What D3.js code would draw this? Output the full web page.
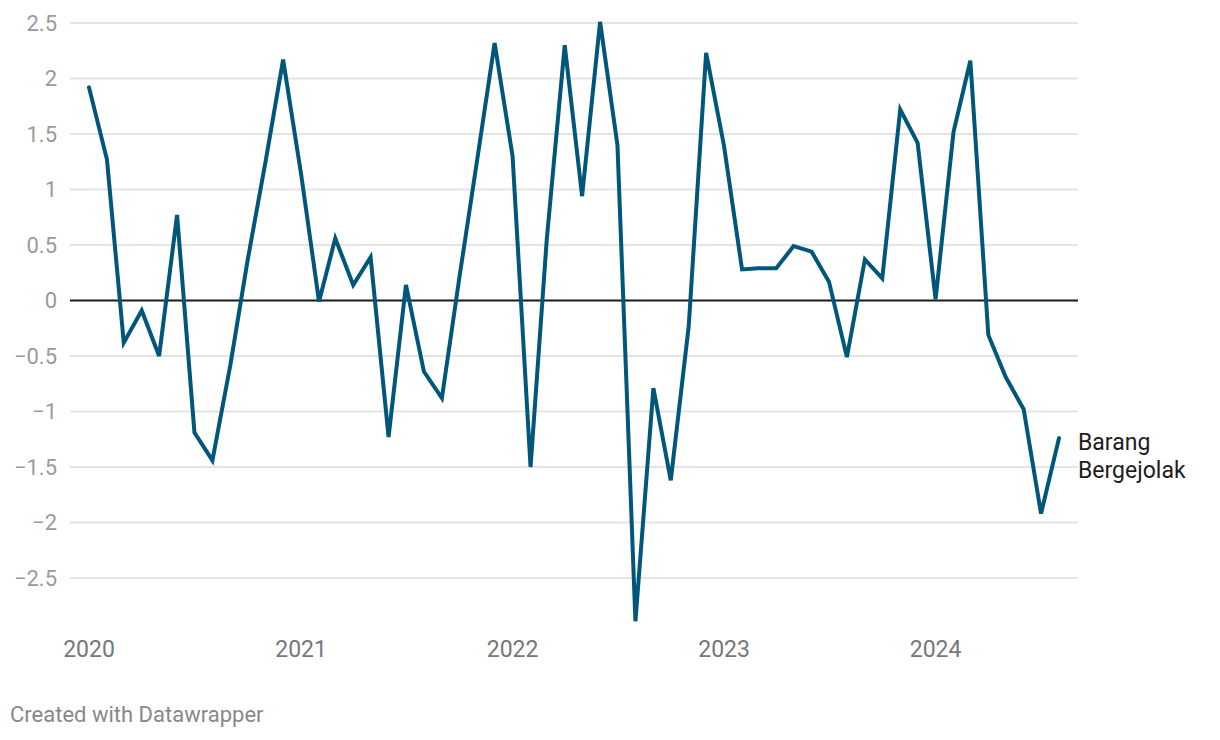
<!DOCTYPE html>
<html>
<head>
<meta charset="utf-8">
<script src="https://cdn.jsdelivr.net/npm/d3@7"></script>
<style>
  html, body { margin: 0; padding: 0; background: #fff; }
  svg { display: block; font-family: Roboto, "Noto Sans", sans-serif; }
</style>
</head>
<body>
<svg id="chart" width="1220" height="740"></svg>
<script>
// ---- data ----
const startMonth = "2020-01";
const seriesName = ["Barang", "Bergejolak"];
const values = [
  1.92, 1.27, -0.38, -0.09, -0.50, 0.77, -1.19, -1.44, -0.58, 0.37, 1.26, 2.17,
  1.14, -0.01, 0.56, 0.14, 0.39, -1.23, 0.14, -0.64, -0.88, 0.20, 1.27, 2.32,
  1.30, -1.50, 0.55, 2.30, 0.94, 2.51, 1.40, -2.89, -0.79, -1.62, -0.23, 2.23,
  1.39, 0.28, 0.29, 0.29, 0.49, 0.44, 0.17, -0.51, 0.37, 0.20, 1.72, 1.42,
  0.01, 1.52, 2.16, -0.31, -0.69, -0.98, -1.92, -1.24
];
const yTicks = [-2.5, -2, -1.5, -1, -0.5, 0, 0.5, 1, 1.5, 2, 2.5];
const xTickYears = [2020, 2021, 2022, 2023, 2024];
const footer = "Created with Datawrapper";

// ---- build ----
const parse = d3.timeParse("%Y-%m");
const start = parse(startMonth);
const data = values.map((v, i) => ({ date: d3.timeMonth.offset(start, i), value: v }));

const svg = d3.select("#chart");
const x = d3.scaleTime()
  .domain([data[0].date, data[data.length - 1].date])
  .range([89, 1059]);
const y = d3.scaleLinear().domain([-2.5, 2.5]).range([578, 23]);

const gridX0 = 70, gridX1 = 1078;
const fmt = v => (v < 0 ? "\u2212" : "") + Math.abs(v);

// gridlines
svg.append("g").selectAll("line")
  .data(yTicks.filter(t => t !== 0))
  .join("line")
  .attr("x1", gridX0).attr("x2", gridX1)
  .attr("y1", d => y(d)).attr("y2", d => y(d))
  .attr("stroke", "#e4e4e4").attr("stroke-width", 2);

// y labels
svg.append("g").selectAll("text")
  .data(yTicks)
  .join("text")
  .attr("x", 57).attr("y", d => y(d))
  .attr("dy", "0.35em")
  .attr("text-anchor", "end")
  .attr("fill", "#9a9a9a")
  .attr("font-size", 22)
  .text(fmt);

// zero line
svg.append("line")
  .attr("x1", gridX0).attr("x2", gridX1)
  .attr("y1", y(0)).attr("y2", y(0))
  .attr("stroke", "#1a1a1a").attr("stroke-width", 2);

// x labels
svg.append("g").selectAll("text")
  .data(xTickYears)
  .join("text")
  .attr("x", d => x(new Date(d, 0, 1)))
  .attr("y", 657)
  .attr("text-anchor", "middle")
  .attr("fill", "#777")
  .attr("font-size", 23)
  .text(d => d);

// line
const line = d3.line().x(d => x(d.date)).y(d => y(d.value));
svg.append("path")
  .datum(data)
  .attr("d", line)
  .attr("fill", "none")
  .attr("stroke", "#00577a")
  .attr("stroke-width", 4)
  .attr("stroke-linejoin", "miter")
  .attr("stroke-linecap", "round");

// series label
const lbl = svg.append("text")
  .attr("x", 1078).attr("y", 450)
  .attr("fill", "#1d1d1d")
  .attr("font-size", 23);
seriesName.forEach((s, i) => {
  lbl.append("tspan").attr("x", 1078).attr("dy", i === 0 ? 0 : 28).text(s);
});

// footer
svg.append("text")
  .attr("x", 10).attr("y", 722)
  .attr("fill", "#888")
  .attr("font-size", 22)
  .text(footer);
</script>
</body>
</html>
